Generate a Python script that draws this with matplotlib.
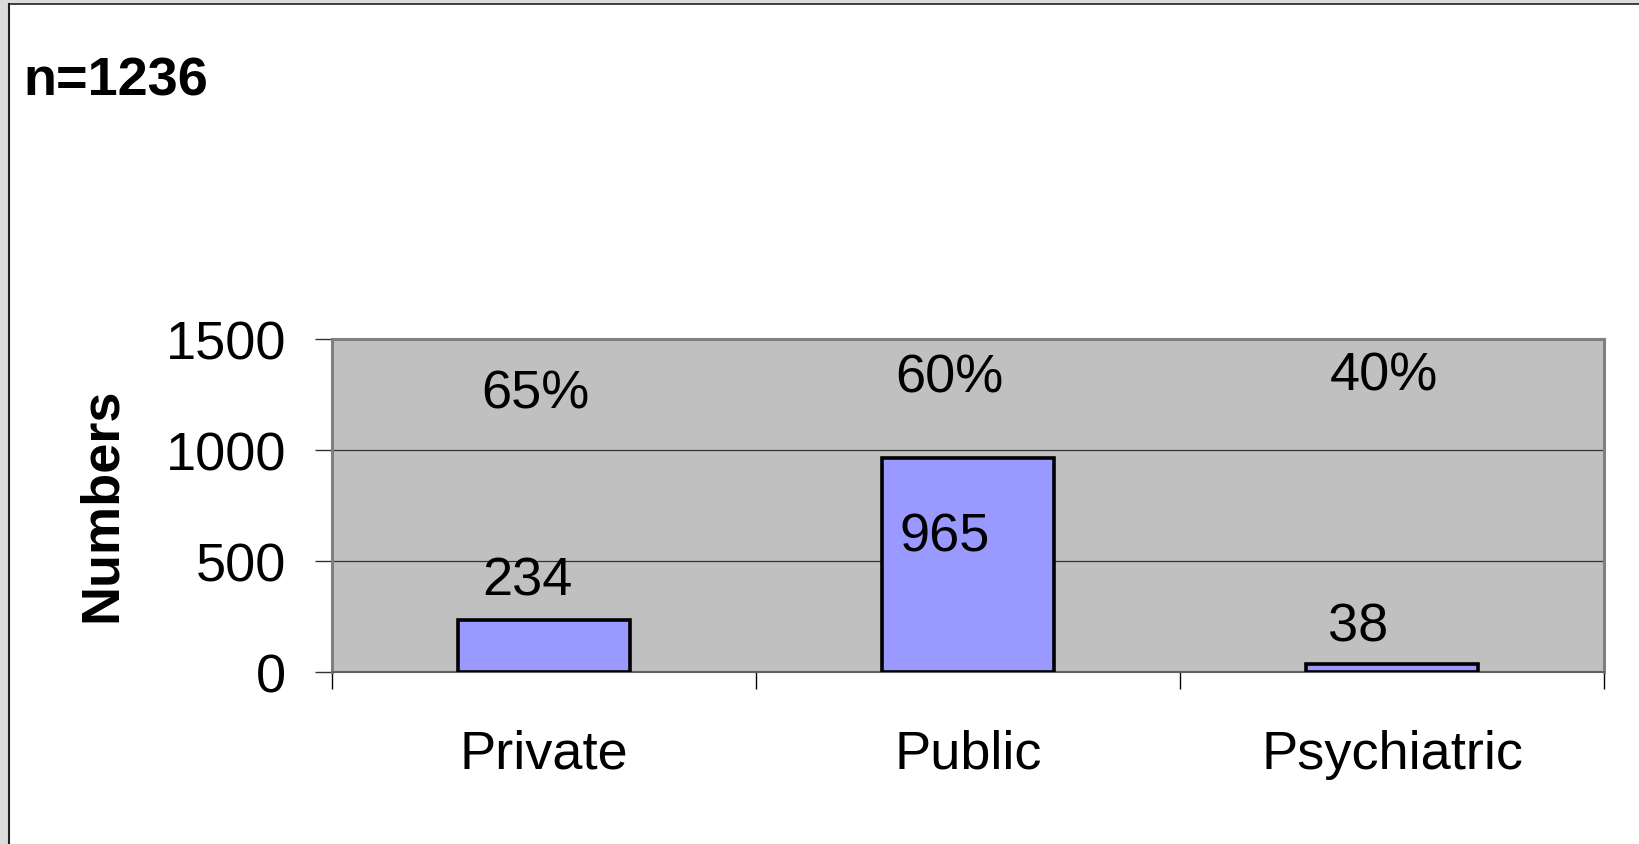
import matplotlib.pyplot as plt
from matplotlib.patches import Rectangle
from matplotlib.lines import Line2D

# data
categories = ['Private', 'Public', 'Psychiatric']
counts = [234, 965, 38]
percents = ['65%', '60%', '40%']
n_total = 1236
yticks = [0, 500, 1000, 1500]

# where the text boxes sit (data coords, hand placed like in the original)
pct_pos = [(-0.02, 1253), (0.955, 1326), (1.98, 1335)]
cnt_pos = [(-0.04, 410), (0.945, 609), (1.92, 203)]

plt.rcParams['font.family'] = ['Liberation Sans', 'DejaVu Sans']
FS = 39

fig = plt.figure(figsize=(16.4, 8.45), dpi=100)
W, H = 1640, 845

# window frame (grey band left/top)
fig.patches.append(Rectangle((0, 0), 8 / W, 1, transform=fig.transFigure, color='#dcdcde', zorder=0))
fig.patches.append(Rectangle((0, 1 - 4 / H), 1, 4 / H, transform=fig.transFigure, color='#dcdcde', zorder=0))
fig.lines.append(Line2D([9 / W, 9 / W], [0, 1 - 5 / H], transform=fig.transFigure, color='#222222', lw=1.5))
fig.lines.append(Line2D([9 / W, 1], [1 - 5 / H, 1 - 5 / H], transform=fig.transFigure, color='#222222', lw=1.2))

ax = fig.add_axes([332 / W, 1 - 673 / H, (1604 - 332) / W, (673 - 340) / H])
ax.set_facecolor('#c0c0c0')

x = range(len(categories))
ax.bar(x, counts, width=0.405, color='#9999ff', edgecolor='black', linewidth=2.6, zorder=3)

ax.set_xlim(-0.5, 2.5)
ax.set_ylim(0, 1500)
ax.set_yticks(yticks)
ax.set_yticklabels([str(t) for t in yticks])
ax.set_xticks(list(x))
ax.set_xticklabels(categories)
ax.set_xticks([-0.5, 0.5, 1.5, 2.5], minor=True)

ax.tick_params(axis='y', direction='out', length=12, width=1, color='#333333', pad=21, labelsize=FS)
ax.tick_params(axis='x', which='major', length=0, pad=41, labelsize=FS)
ax.tick_params(axis='x', which='minor', direction='out', length=12, width=1, color='black')

for v in [500, 1000]:
    ax.axhline(v, color='#333333', lw=0.9, zorder=1)

for s in ['top', 'right', 'left']:
    ax.spines[s].set_color('#808080')
    ax.spines[s].set_linewidth(2.2)
ax.spines['bottom'].set_color('#606060')
ax.spines['bottom'].set_linewidth(1.5)

for (px, py), t in zip(pct_pos, percents):
    ax.text(px, py, t, ha='center', va='center', fontsize=FS, zorder=4)
for (px, py), c in zip(cnt_pos, counts):
    ax.text(px, py, str(c), ha='center', va='center', fontsize=FS, zorder=4)

fig.text(23 / W, 1 - 96 / H, 'n=%d' % n_total, fontsize=FS, fontweight='bold', ha='left', va='baseline')
fig.text(102 / W, 1 - 505 / H, 'Numbers', fontsize=FS, fontweight='bold', rotation=90, ha='center', va='center')

fig.savefig('out.png', dpi=100)
